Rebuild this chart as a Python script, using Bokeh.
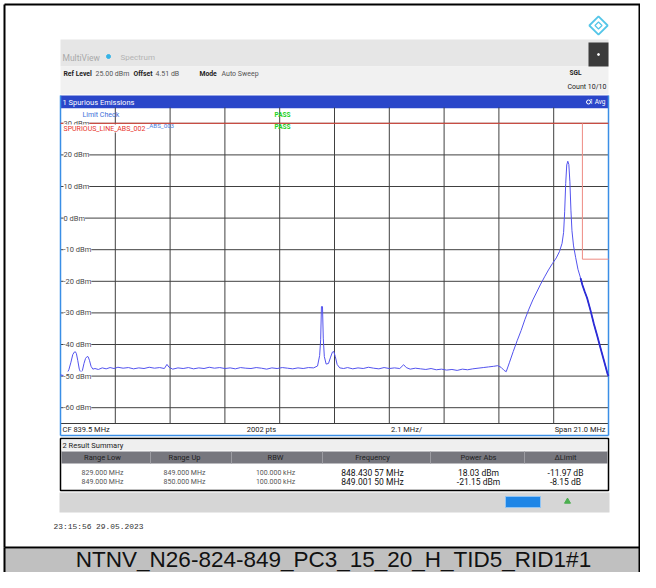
from bokeh.plotting import figure
from bokeh.models import Range1d, Label, LabelSet, ColumnDataSource
from bokeh.core.properties import value
from bokeh.embed import file_html
from bokeh.resources import INLINE

# ---------------- data ----------------
freq_mhz = [
    829.00, 829.10, 829.22, 829.32, 829.40, 829.47, 829.53, 829.57, 829.61, 829.66,
    829.72, 829.78, 829.84, 829.90, 829.96, 830.02, 830.06, 830.11, 830.17, 830.24,
    830.32, 830.45, 830.60, 830.75, 830.90, 831.05, 831.20, 831.40, 831.60, 831.80,
    832.00, 832.20, 832.40, 832.60, 832.80, 832.98, 833.08, 833.16, 833.30, 833.50,
    833.70, 833.90, 834.10, 834.30, 834.50, 834.70, 834.90, 835.10, 835.30, 835.50,
    835.70, 835.90, 836.10, 836.30, 836.50, 836.70, 836.90, 837.10, 837.30, 837.50,
    837.70, 837.90, 838.10, 838.30, 838.50, 838.70, 838.85, 838.93, 838.97, 839.00,
    839.04, 839.07, 839.11, 839.18, 839.27, 839.35, 839.42, 839.47, 839.53, 839.60,
    839.70, 839.85, 840.00, 840.20, 840.40, 840.60, 840.80, 841.00, 841.20, 841.40,
    841.60, 841.80, 842.00, 842.15, 842.25, 842.40, 842.60, 842.80, 843.00, 843.20,
    843.40, 843.60, 843.80, 844.00, 844.20, 844.40, 844.60, 844.80, 845.00, 845.20,
    845.40, 845.60, 845.75, 845.88, 846.00, 846.08, 846.20, 846.35, 846.50, 846.65,
    846.80, 846.95, 847.10, 847.25, 847.40, 847.55, 847.70, 847.85, 848.00, 848.12,
    848.22, 848.28, 848.32, 848.36, 848.40, 848.44, 848.48, 848.52, 848.56, 848.60,
    848.66, 848.74, 848.83, 848.93, 849.00, 849.09, 849.18, 849.31, 849.44, 849.57,
    849.69, 849.83, 849.96, 850.00,
]
level_dbm = [
    -49.6, -49.8, -49.5, -48.0, -45.6, -43.2, -42.4, -42.3, -42.9, -45.0,
    -47.8, -49.0, -48.2, -46.0, -44.4, -43.8, -43.9, -45.0, -46.9, -47.8,
    -47.6, -47.9, -47.4, -47.7, -47.3, -47.6, -47.2, -47.5, -47.3, -47.7,
    -47.4, -47.6, -47.2, -47.5, -47.3, -47.6, -46.3, -47.2, -47.8, -47.4,
    -47.6, -47.3, -47.7, -47.4, -47.6, -47.2, -47.5, -47.3, -47.6, -47.4,
    -47.7, -47.3, -47.5, -47.6, -47.3, -47.5, -47.8, -47.4, -47.6, -47.3,
    -47.5, -47.7, -47.4, -47.6, -47.3, -47.4, -46.8, -43.5, -38.5, -28.0,
    -28.0, -38.0, -43.8, -46.2, -46.0, -44.0, -42.4, -42.2, -43.8, -46.3,
    -47.4, -47.6, -47.3, -47.7, -47.4, -47.6, -47.2, -47.5, -47.7, -47.3,
    -47.6, -47.4, -47.6, -46.4, -47.3, -47.8, -47.5, -47.7, -47.9, -47.6,
    -48.0, -47.8, -48.1, -47.9, -48.2, -47.8, -48.0, -47.7, -47.5, -47.3,
    -47.1, -46.9, -46.7, -47.2, -48.2, -48.6, -45.8, -42.2, -38.8, -35.6,
    -32.0, -28.8, -25.9, -23.4, -20.9, -18.6, -16.4, -14.4, -12.6, -10.6,
    -8.0, -4.5, 2.0, 11.0, 16.8, 18.0, 17.0, 11.5, 2.5, -4.0,
    -8.8, -12.4, -16.2, -19.0, -21.15, -23.3, -25.3, -29.2, -33.5, -37.3,
    -41.0, -45.2, -49.2, -50.0,
]
limit_main_freq = [829.0, 850.0]
limit_main_dbm = [30.0, 30.0]
limit_edge_freq = [849.0, 849.0, 850.0]
limit_edge_dbm = [30.0, -13.0, -13.0]

freq_start, freq_stop = 829.0, 850.0
level_top, level_bottom = 35.0, -65.0
freq_ticks = [829.0, 831.1, 833.2, 835.3, 837.4, 839.5, 841.6, 843.7, 845.8, 847.9, 850.0]
level_ticks = [30, 20, 10, 0, -10, -20, -30, -40, -50, -60]
level_tick_labels = ["30 dBm", "20 dBm", "10 dBm", "0 dBm", "-10 dBm", "-20 dBm",
                     "-30 dBm", "-40 dBm", "-50 dBm", "-60 dBm"]

result_headers = ["Range Low", "Range Up", "RBW", "Frequency", "Power Abs", "\u0394Limit"]
range_low = ["829.000 MHz", "849.000 MHz"]
range_up = ["849.000 MHz", "850.000 MHz"]
rbw = ["100.000 kHz", "100.000 kHz"]
peak_freq = ["848.430 57 MHz", "849.001 50 MHz"]
power_abs = ["18.03 dBm", "-21.15 dBm"]
delta_limit = ["-11.97 dB", "-8.15 dB"]

caption = "NTNV_N26-824-849_PC3_15_20_H_TID5_RID1#1"
timestamp = "23:15:56  29.05.2023"

# ---------------- layout (pixel coordinates of the picture) ----------------
W, H = 640, 572
GX0, GX1, GY0, GY1 = 60, 608, 107, 423          # spectrum grid box
UI = "Roboto"
MONO = "'Liberation Mono', 'DejaVu Sans Mono', monospace"
ARIAL = "'Liberation Sans', Arial, sans-serif"

p = figure(width=W, height=H, output_backend="svg", toolbar_location=None,
           x_range=Range1d(0, W), y_range=Range1d(H, 0),
           x_axis_type=None, y_axis_type=None, min_border=0)
p.outline_line_color = None
p.background_fill_color = "white"
p.border_fill_color = "white"

sx = (GX1 - GX0) / (freq_stop - freq_start)
sy = (GY1 - GY0) / (level_top - level_bottom)
p.extra_x_ranges = {"freq": Range1d(freq_start - GX0 / sx, freq_stop + (W - GX1) / sx)}
p.extra_y_ranges = {"dbm": Range1d(level_bottom - (H - GY1) / sy, level_top + GY0 / sy)}
D = dict(x_range_name="freq", y_range_name="dbm")


def box(l, r, t, b, fill, line=None, lw=1):
    p.quad(left=[l], right=[r], top=[t], bottom=[b], fill_color=fill,
           line_color=line, line_width=lw)


def seg(x0, y0, x1, y1, color, lw=1):
    p.segment(x0=[x0], y0=[y0], x1=[x1], y1=[y1], line_color=color, line_width=lw)


def txt(x, y, s, size=7, color="#2b2b2b", align="left", style="normal",
        font=UI, bg=None):
    lab = Label(x=x, y=y, text=s, text_font=font, text_font_size=f"{size}px",
                text_color=color, text_align=align, text_baseline="middle",
                text_font_style=style)
    if bg:
        lab.background_fill_color = bg
    p.add_layout(lab)


# outer frame + caption band
seg(4, 4, 4, 547, "black", 2)
seg(4, 4, W, 4, "black", 2)
seg(639, 4, 639, 547, "black", 2)
box(4, W, 548, H, "#c0c0c0")
seg(4, 547, W, 547, "black", 2)
seg(4, 547, 4, H, "black", 2)
seg(639, 547, 639, H, "black", 2)

# R&S logo
p.scatter([598], [25], marker="square", angle=0.785, size=13, fill_color=None,
          line_color="#55c6e8", line_width=1.8)
p.scatter([598], [25], marker="square", angle=0.785, size=5, fill_color=None,
          line_color="#55c6e8", line_width=1.2)

# header
box(60, 608, 39, 66, "#e6e6e6")
box(60, 608, 66, 94, "#f1f1f1")
box(588, 608, 42, 66, "#3b3b3b")
p.scatter([598], [54], size=2, color="white")
p.scatter([108], [56], size=4, color="#35b3e6")

# spectrum window
box(60, 608, 95, 108, "#2a46c9")
box(60, 608, 108, 435, "white")
seg(GX0, GY1, GX1, GY1, "#3a3a3a", 1)
p.segment(x0=[freq_start] * len(level_ticks), x1=[freq_stop] * len(level_ticks),
          y0=level_ticks, y1=level_ticks, line_color="#404040", line_width=1, **D)
inner = freq_ticks[1:-1]
p.segment(x0=inner, x1=inner, y0=[level_bottom] * len(inner), y1=[level_top] * len(inner),
          line_color="#404040", line_width=1, **D)
seg(60, 95, 60, 435, "#3a8ee6", 1.5)
seg(608, 95, 608, 435, "#3a8ee6", 1.5)
seg(60, 435, 608, 435, "#3a8ee6", 1.5)

# limit lines and trace
p.line(limit_main_freq, limit_main_dbm, line_color="#e2483b", line_width=1, **D)
p.line(limit_edge_freq, limit_edge_dbm, line_color="#ee8a82", line_width=1, **D)
p.line(freq_mhz, level_dbm, line_color="#5353ee", line_width=1, **D)
tail = [i for i, f in enumerate(freq_mhz) if f >= 848.93]
p.line([freq_mhz[i] for i in tail], [level_dbm[i] for i in tail],
       line_color="#2c2cd6", line_width=1.8, **D)

# result summary box and status bar
box(60, 608, 438, 490, "white", "black", 1.5)
box(61, 607, 439, 450, "#efefef")
box(61, 607, 451, 463, "#77777e")
for xs in [150, 231, 322, 430, 524]:
    seg(xs, 451, xs, 463, "#9c9ca2", 1)
box(59, 609, 492, 512, "#d6d6d6")
box(505, 540, 496, 507, "#1f86e6", "#8fc4f5", 1)
p.scatter([567], [501], marker="triangle", size=6, color="#4caf50")

# ---------------- texts ----------------
txt(62, 57, "MultiView", 8.5, "#a9a9a9")
txt(120, 57, "Spectrum", 8, "#b4b4b4")
txt(63, 73, "Ref Level", 6.8, "#222", style="bold")
txt(95, 73, "25.00 dBm", 7, "#555")
txt(133, 73, "Offset", 6.8, "#222", style="bold")
txt(155, 73, "4.51 dB", 7, "#555")
txt(199, 73, "Mode", 6.8, "#222", style="bold")
txt(221, 73, "Auto Sweep", 7, "#555")
txt(569, 72, "SGL", 6.5, "#222", style="bold")
txt(567, 86, "Count 10/10", 7, "#222")

txt(62, 101.5, "1 Spurious Emissions", 7.5, "white")
txt(605, 101.5, "1 Avg", 6.5, "white", align="right")
p.scatter([588], [101.5], size=4, fill_color=None, line_color="white")

ysrc = ColumnDataSource(dict(x=[freq_start] * len(level_ticks), y=level_ticks,
                             text=level_tick_labels))
p.add_layout(LabelSet(x="x", y="y", text="text", source=ysrc, x_offset=3,
                      text_font=value(UI), text_font_size=value("7.5px"),
                      text_color="#4a4a4a", text_baseline="middle",
                      background_fill_color="white", **D))

txt(82, 114, "Limit Check", 7, "#3b6fd9")
txt(146, 125.5, "_ABS_003", 6.2, "#4a7de0")
txt(63, 128, "SPURIOUS_LINE_ABS_002", 7, "#e8332a", bg="white")
txt(274, 114, "PASS", 6.5, "#22d022", style="bold")
txt(274, 126.5, "PASS", 6.5, "#22d022", style="bold")

txt(62, 429, "CF 839.5 MHz", 7.5, "#222")
txt(261, 429, "2002 pts", 7.5, "#222", align="center")
txt(406, 429, "2.1 MHz/", 7.5, "#222", align="center")
txt(605, 429, "Span 21.0 MHz", 7.5, "#222", align="right")

txt(62, 444.5, "2 Result Summary", 7.5, "#222")
col_x = [102, 184, 275, 372, 478, 565]
for cx, h in zip(col_x, result_headers):
    txt(cx, 457, h, 7.5, "#1e1e1e", align="center")
row_y = [472, 481]
for r in range(2):
    txt(col_x[0], row_y[r], range_low[r], 7, "#555", align="center")
    txt(col_x[1], row_y[r], range_up[r], 7, "#555", align="center")
    txt(col_x[2], row_y[r], rbw[r], 7, "#555", align="center")
    txt(col_x[3], row_y[r], peak_freq[r], 8.5, "#111", align="center")
    txt(col_x[4], row_y[r], power_abs[r], 8.5, "#111", align="center")
    txt(col_x[5], row_y[r], delta_limit[r], 8.5, "#111", align="center")

txt(53, 526, timestamp, 7.9, "#333", font=MONO)
txt(333, 558.5, caption, 22.5, "#111", align="center", font=ARIAL)

open("out.html", "w").write(file_html(p, INLINE))
